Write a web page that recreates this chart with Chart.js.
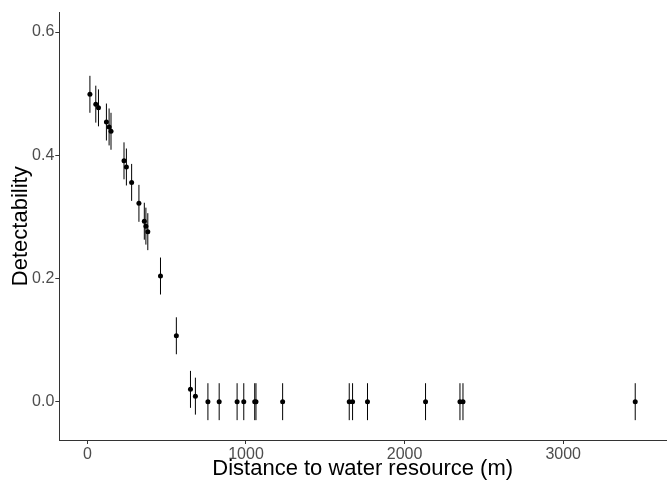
<!DOCTYPE html>
<html>
<head>
<meta charset="utf-8">
<script src="https://cdn.jsdelivr.net/npm/chart.js@4"></script>
<style>
  body { margin: 0; background: #fff; }
  canvas { display: block; }
</style>
</head>
<body>
<canvas id="detectChart" width="670" height="483"></canvas>
<script>
// distance to water resource (m)
const distance = [
  16, 53, 70, 120, 137, 149, 231, 246, 279, 325, 359, 369, 381,
  461, 561, 650, 681,
  760, 831, 944, 986, 1055, 1063, 1231, 1651, 1672, 1766, 2132, 2349, 2368, 3454
]

// estimated detectability
const detectability = [
  0.499, 0.483, 0.477, 0.454, 0.446, 0.439, 0.391, 0.381, 0.356, 0.322, 0.293, 0.285, 0.276,
  0.204, 0.107, 0.020, 0.009,
  0, 0, 0, 0, 0, 0, 0, 0, 0, 0, 0, 0, 0, 0
]

// +/- error on each estimate
const stdErr = [
  0.03, 0.03, 0.03, 0.03, 0.03, 0.03, 0.03, 0.03, 0.03, 0.03, 0.03, 0.03, 0.03,
  0.03, 0.03, 0.03, 0.03,
  0.03, 0.03, 0.03, 0.03, 0.03, 0.03, 0.03, 0.03, 0.03, 0.03, 0.03, 0.03, 0.03, 0.03
]

const xTicks = [0, 1000, 2000, 3000]
const yTicks = [0, 0.2, 0.4, 0.6]

// vertical error bars, drawn under the points
const errorBars = {
  id: 'errorBars',
  beforeDatasetsDraw(chart) {
    const { ctx, scales: { x, y } } = chart
    ctx.save()
    ctx.strokeStyle = '#000'
    ctx.lineWidth = 1
    distance.forEach((d, i) => {
      const px = x.getPixelForValue(d)
      ctx.beginPath()
      ctx.moveTo(px, y.getPixelForValue(detectability[i] - stdErr[i]))
      ctx.lineTo(px, y.getPixelForValue(detectability[i] + stdErr[i]))
      ctx.stroke()
    })
    ctx.restore()
  }
}

const axisGrid = { display: true, drawOnChartArea: false, drawTicks: true, tickLength: 4, color: '#333' }
const axisBorder = { display: true, color: '#333', width: 1 }
const tickFont = { family: 'Liberation Sans, Arial, sans-serif', size: 16 }
const titleFont = { family: 'Liberation Sans, Arial, sans-serif', size: 22 }

const ctx = document.getElementById('detectChart').getContext('2d')

const detectChart = new Chart(ctx, {
  type: 'scatter',
  data: {
    datasets: [{
      label: 'Detectability',
      data: distance.map((d, i) => ({ x: d, y: detectability[i] })),
      backgroundColor: '#000',
      borderWidth: 0,
      pointRadius: 2.5,
    }],
  },
  options: {
    responsive: false,
    animation: false,
    layout: { padding: { top: 12.5, right: 1, left: 0, bottom: 0 } },
    scales: {
      x: {
        type: 'linear',
        min: -177,
        max: 3648,
        afterBuildTicks: s => { s.ticks = xTicks.map(v => ({ value: v })) },
        afterFit: s => { s.height = 43 },
        grid: axisGrid,
        border: axisBorder,
        ticks: { color: '#4d4d4d', font: tickFont, padding: 1, maxRotation: 0, callback: v => String(v) },
        title: { display: true, text: 'Distance to water resource (m)', color: '#000', font: titleFont, padding: { top: 0, bottom: 0.5 } },
      },
      y: {
        type: 'linear',
        min: -0.0622,
        max: 0.6318,
        afterBuildTicks: s => { s.ticks = yTicks.map(v => ({ value: v })) },
        afterFit: s => { s.width = 59.3 },
        grid: axisGrid,
        border: axisBorder,
        ticks: { color: '#4d4d4d', font: tickFont, padding: 1, callback: v => v.toFixed(1) },
        title: { display: true, text: 'Detectability', color: '#000', font: titleFont, padding: { top: 8, bottom: 0 } },
      },
    },
    plugins: {
      legend: { display: false },
      tooltip: { enabled: false },
    },
  },
  plugins: [errorBars],
})
</script>
</body>
</html>
